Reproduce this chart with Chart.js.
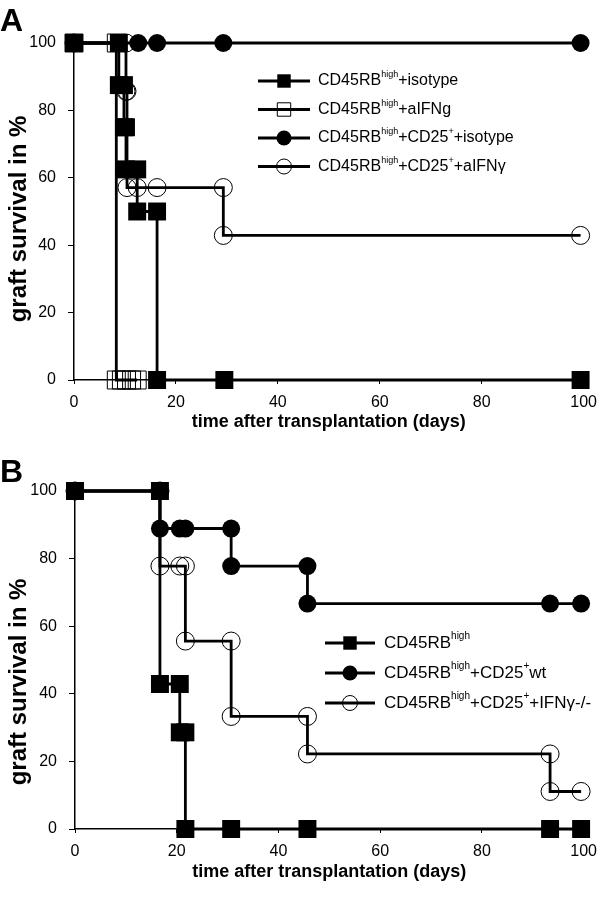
<!DOCTYPE html>
<html>
<head>
<meta charset="utf-8">
<script src="https://cdn.jsdelivr.net/npm/chart.js@4"></script>
<style>
  body { margin: 0; background: #fff; width: 606px; height: 900px; position: relative; overflow: hidden; font-family: "Liberation Sans", Arial, sans-serif; }
  .panel { position: absolute; left: 0; width: 606px; height: 450px; }
  .letter { position: absolute; left: 0; font-weight: bold; font-size: 32px; line-height: 1; }
</style>
</head>
<body>
<div class="panel" style="top:0"><canvas id="chartA" width="606" height="450"></canvas></div>
<div class="panel" style="top:450px"><canvas id="chartB" width="606" height="450"></canvas></div>
<div class="letter" style="top:4px">A</div>
<div class="letter" style="top:455px">B</div>
<script>
const xTicks = [0, 20, 40, 60, 80, 100];
const yTicks = [0, 20, 40, 60, 80, 100];
const xTitle = 'time after transplantation (days)';
const yTitle = 'graft survival in %';

// panel A
const aLabels = ['CD45RB^{high}+isotype', 'CD45RB^{high}+aIFNg', 'CD45RB^{high}+CD25^{+}+isotype', 'CD45RB^{high}+CD25^{+}+aIFN\u03b3'];
const aIsoDays = [0, 8.8, 8.8, 9.8, 9.8, 10.2, 10.2, 12.4, 12.4, 16.3, 16.3, 29.5, 99.4];
const aIsoSurv = [100, 100, 87.5, 87.5, 75, 75, 62.5, 62.5, 50, 50, 0, 0, 0];
const aIfnDays = [0, 8.3, 8.3, 9.3, 10.3, 11.3, 12.4];
const aIfnSurv = [100, 100, 0, 0, 0, 0, 0];
const aTregIsoDays = [0, 12.6, 16.3, 29.3, 99.4];
const aTregIsoSurv = [100, 100, 100, 100, 100];
const aTregIfnDays = [0, 10.2, 10.2, 10.4, 10.4, 12.4, 16.3, 29.3, 29.3, 99.4];
const aTregIfnSurv = [100, 100, 85.7, 85.7, 57.1, 57.1, 57.1, 57.1, 42.9, 42.9];

// panel B
const bLabels = ['CD45RB^{high}', 'CD45RB^{high}+CD25^{+}wt', 'CD45RB^{high}+CD25^{+}+IFN\u03b3-/-'];
const bHighDays = [0, 16.7, 16.7, 20.6, 20.6, 21.7, 21.7, 30.7, 45.7, 93.4, 99.5];
const bHighSurv = [100, 100, 42.9, 42.9, 28.6, 28.6, 0, 0, 0, 0, 0];
const bWtDays = [0, 16.7, 16.7, 20.6, 21.7, 30.7, 30.7, 45.7, 45.7, 93.4, 99.5];
const bWtSurv = [100, 100, 88.9, 88.9, 88.9, 88.9, 77.8, 77.8, 66.7, 66.7, 66.7];
const bKoDays = [0, 16.7, 16.7, 20.6, 21.7, 21.7, 30.7, 30.7, 45.7, 45.7, 93.4, 93.4, 99.5];
const bKoSurv = [100, 100, 77.8, 77.8, 77.8, 55.6, 55.6, 33.3, 33.3, 22.2, 22.2, 11.1, 11.1];

Chart.defaults.font.family = '"Liberation Sans", Arial, sans-serif';
Chart.defaults.color = '#000';

const pts = (xs, ys) => xs.map((x, i) => ({ x: x, y: ys[i] }));

const markers = {
  filledSquare: { pointStyle: 'rect', pointRadius: 12.7, pointBackgroundColor: '#000', pointBorderColor: '#000', pointBorderWidth: 0 },
  openSquare: { pointStyle: 'rect', pointRadius: 12.7, pointBackgroundColor: 'rgba(0,0,0,0)', pointBorderColor: '#000', pointBorderWidth: 1 },
  filledCircle: { pointStyle: 'circle', pointRadius: 9, pointBackgroundColor: '#000', pointBorderColor: '#000', pointBorderWidth: 0 },
  openCircle: { pointStyle: 'circle', pointRadius: 9, pointBackgroundColor: 'rgba(0,0,0,0)', pointBorderColor: '#000', pointBorderWidth: 1 }
};

function series(label, xs, ys, marker) {
  return Object.assign({
    label: label,
    data: pts(xs, ys),
    borderColor: '#000',
    borderWidth: 2.8,
    tension: 0,
    fill: false,
    clip: false
  }, markers[marker]);
}

function drawRich(ctx, str, x, y, size, supSize) {
  const parts = str.split(/(\^\{[^}]*\})/);
  ctx.textBaseline = 'middle';
  ctx.textAlign = 'left';
  ctx.fillStyle = '#000';
  parts.forEach(p => {
    if (!p) return;
    if (p.startsWith('^{')) {
      const t = p.slice(2, -1);
      ctx.font = supSize + 'px "Liberation Sans", Arial, sans-serif';
      ctx.fillText(t, x, y - size * 0.38);
      x += ctx.measureText(t).width;
    } else {
      ctx.font = size + 'px "Liberation Sans", Arial, sans-serif';
      ctx.fillText(p, x, y);
      x += ctx.measureText(p).width;
    }
  });
}

const legendPlugin = {
  id: 'sketchLegend',
  afterDraw(chart, args, opts) {
    const ctx = chart.ctx;
    chart.data.datasets.forEach((ds, i) => {
      const y = opts.y + i * opts.gap;
      ctx.save();
      ctx.strokeStyle = '#000';
      ctx.lineWidth = 3;
      ctx.beginPath();
      ctx.moveTo(opts.x, y);
      ctx.lineTo(opts.x + opts.lineLen, y);
      ctx.stroke();
      ctx.fillStyle = ds.pointBackgroundColor;
      ctx.strokeStyle = '#000';
      ctx.lineWidth = ds.pointBorderWidth;
      const r = ds.pointStyle === 'rect' ? 9.5 : 7.5;
      Chart.helpers.drawPoint(ctx, { pointStyle: ds.pointStyle, radius: r, borderWidth: ds.pointBorderWidth }, opts.x + opts.lineLen / 2, y);
      drawRich(ctx, ds.label, opts.x + opts.lineLen + opts.textGap, y, opts.size, opts.supSize);
      ctx.restore();
    });
    // y axis title, placed a little off the chart-area centre like the original
    const t = opts.yTitle;
    ctx.save();
    ctx.translate(t.x, t.y);
    ctx.rotate(-Math.PI / 2);
    ctx.font = 'bold ' + t.size + 'px "Liberation Sans", Arial, sans-serif';
    ctx.fillStyle = '#000';
    ctx.textAlign = 'center';
    ctx.textBaseline = 'middle';
    ctx.fillText(yTitle, 0, 0);
    ctx.restore();
  }
};

function makeOptions(leftW, bottomH, pad, legend) {
  return {
    responsive: false,
    animation: false,
    events: [],
    layout: { padding: pad },
    plugins: { legend: { display: false }, tooltip: { enabled: false }, sketchLegend: legend },
    scales: {
      x: {
        type: 'linear', min: 0, max: 100,
        afterBuildTicks: s => { s.ticks = xTicks.map(v => ({ value: v })); },
        afterFit: s => { s.height = bottomH; },
        border: { color: '#000', width: 1.5 },
        grid: { drawOnChartArea: false, tickLength: 4, color: '#000', lineWidth: 1 },
        ticks: { font: { size: 16 }, padding: 9, maxRotation: 0, autoSkip: false },
        title: { display: true, text: xTitle, font: { size: 18, weight: 'bold' }, padding: { top: 0, bottom: 17 } }
      },
      y: {
        min: 0, max: 100,
        afterBuildTicks: s => { s.ticks = yTicks.map(v => ({ value: v })); },
        afterFit: s => { s.width = leftW; },
        border: { color: '#000', width: 1.5 },
        grid: { drawOnChartArea: false, tickLength: 6, color: '#000', lineWidth: 1 },
        ticks: { font: { size: 16 }, padding: 12, autoSkip: false }
      }
    }
  };
}

new Chart(document.getElementById('chartA'), {
  type: 'line',
  data: {
    datasets: [
      series(aLabels[0], aIsoDays, aIsoSurv, 'filledSquare'),
      series(aLabels[1], aIfnDays, aIfnSurv, 'openSquare'),
      series(aLabels[2], aTregIsoDays, aTregIsoSurv, 'filledCircle'),
      series(aLabels[3], aTregIfnDays, aTregIfnSurv, 'openCircle')
    ]
  },
  options: makeOptions(74, 70, { top: 43, right: 22, bottom: 0, left: 0 },
    { x: 258, y: 81, gap: 28.5, lineLen: 52, textGap: 8, size: 16, supSize: 9, yTitle: { x: 19, y: 219, size: 24 } }),
  plugins: [legendPlugin]
});

new Chart(document.getElementById('chartB'), {
  type: 'line',
  data: {
    datasets: [
      series(bLabels[0], bHighDays, bHighSurv, 'filledSquare'),
      series(bLabels[1], bWtDays, bWtSurv, 'filledCircle'),
      series(bLabels[2], bKoDays, bKoSurv, 'openCircle')
    ]
  },
  options: makeOptions(75, 71, { top: 41, right: 16, bottom: 0, left: 0 },
    { x: 325, y: 193, gap: 30, lineLen: 50, textGap: 9, size: 17, supSize: 10, yTitle: { x: 19, y: 232, size: 24 } }),
  plugins: [legendPlugin]
});
</script>
</body>
</html>
